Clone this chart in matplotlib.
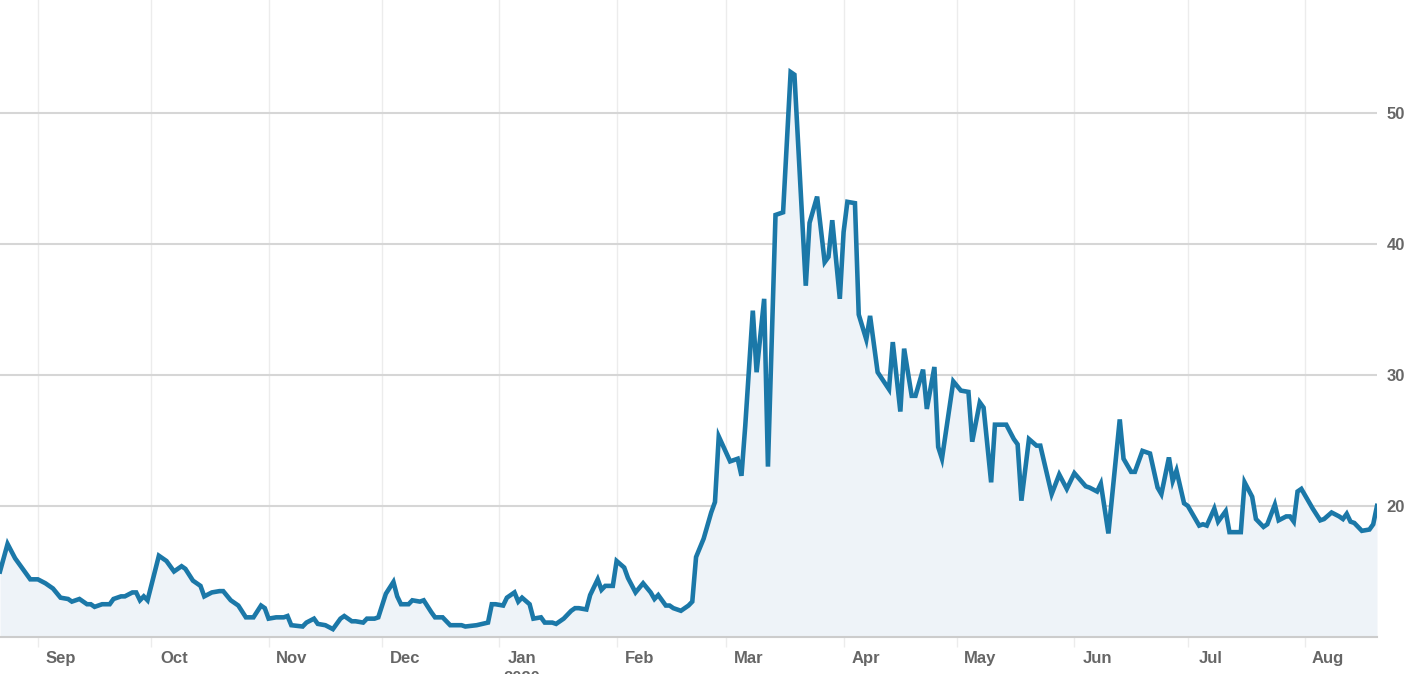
import matplotlib
matplotlib.use("Agg")
import matplotlib.pyplot as plt
import matplotlib.dates as mdates
import pandas as pd

# values
dates = [
    "2019-08-22", "2019-08-24", "2019-08-26", "2019-08-28", "2019-08-30",
    "2019-09-01", "2019-09-03", "2019-09-05", "2019-09-07", "2019-09-09", "2019-09-10",
    "2019-09-12", "2019-09-14", "2019-09-15", "2019-09-16", "2019-09-18", "2019-09-20",
    "2019-09-21", "2019-09-23", "2019-09-24", "2019-09-26", "2019-09-27", "2019-09-28",
    "2019-09-29", "2019-09-30",
    "2019-10-03", "2019-10-05", "2019-10-07", "2019-10-09", "2019-10-10", "2019-10-12",
    "2019-10-14", "2019-10-15", "2019-10-17", "2019-10-19", "2019-10-20", "2019-10-22",
    "2019-10-24", "2019-10-26", "2019-10-28", "2019-10-30", "2019-10-31",
    "2019-11-01", "2019-11-03", "2019-11-05", "2019-11-06", "2019-11-07", "2019-11-10",
    "2019-11-11", "2019-11-13", "2019-11-14", "2019-11-16", "2019-11-18", "2019-11-20",
    "2019-11-21", "2019-11-23", "2019-11-24", "2019-11-26", "2019-11-27", "2019-11-28",
    "2019-11-29", "2019-11-30",
    "2019-12-02", "2019-12-04", "2019-12-05", "2019-12-06", "2019-12-08", "2019-12-09",
    "2019-12-11", "2019-12-12", "2019-12-14", "2019-12-15", "2019-12-17", "2019-12-19",
    "2019-12-21", "2019-12-22", "2019-12-23", "2019-12-26", "2019-12-29", "2019-12-30",
    "2019-12-31",
    "2020-01-02", "2020-01-03", "2020-01-05", "2020-01-06", "2020-01-07", "2020-01-09",
    "2020-01-10", "2020-01-12", "2020-01-13", "2020-01-15", "2020-01-16", "2020-01-18",
    "2020-01-20", "2020-01-21", "2020-01-22", "2020-01-24", "2020-01-25", "2020-01-27",
    "2020-01-28", "2020-01-29", "2020-01-31",
    "2020-02-01", "2020-02-03", "2020-02-04", "2020-02-06", "2020-02-08", "2020-02-10",
    "2020-02-11", "2020-02-12", "2020-02-14", "2020-02-15", "2020-02-16", "2020-02-18",
    "2020-02-20", "2020-02-21", "2020-02-22", "2020-02-24", "2020-02-26", "2020-02-27",
    "2020-02-28",
    "2020-03-02", "2020-03-04", "2020-03-05", "2020-03-06", "2020-03-08", "2020-03-09",
    "2020-03-11", "2020-03-12", "2020-03-14", "2020-03-16", "2020-03-18", "2020-03-19",
    "2020-03-22", "2020-03-23", "2020-03-25", "2020-03-27", "2020-03-28", "2020-03-29",
    "2020-03-31",
    "2020-04-01", "2020-04-02", "2020-04-04", "2020-04-05", "2020-04-07", "2020-04-08",
    "2020-04-10", "2020-04-13", "2020-04-14", "2020-04-16", "2020-04-17", "2020-04-19",
    "2020-04-20", "2020-04-22", "2020-04-23", "2020-04-25", "2020-04-26", "2020-04-27",
    "2020-04-30",
    "2020-05-02", "2020-05-04", "2020-05-05", "2020-05-07", "2020-05-08", "2020-05-10",
    "2020-05-11", "2020-05-14", "2020-05-16", "2020-05-17", "2020-05-18", "2020-05-20",
    "2020-05-22", "2020-05-23", "2020-05-26", "2020-05-28", "2020-05-30",
    "2020-06-01", "2020-06-04", "2020-06-05", "2020-06-07", "2020-06-08", "2020-06-10",
    "2020-06-13", "2020-06-14", "2020-06-16", "2020-06-17", "2020-06-19", "2020-06-21",
    "2020-06-23", "2020-06-24", "2020-06-26", "2020-06-27", "2020-06-28", "2020-06-30",
    "2020-07-01", "2020-07-04", "2020-07-05", "2020-07-06", "2020-07-08", "2020-07-09",
    "2020-07-11", "2020-07-12", "2020-07-13", "2020-07-15", "2020-07-16", "2020-07-18",
    "2020-07-19", "2020-07-21", "2020-07-22", "2020-07-24", "2020-07-25", "2020-07-27",
    "2020-07-28", "2020-07-29", "2020-07-30", "2020-07-31",
    "2020-08-03", "2020-08-05", "2020-08-06", "2020-08-08", "2020-08-10", "2020-08-11",
    "2020-08-12", "2020-08-13", "2020-08-14", "2020-08-16", "2020-08-18", "2020-08-19",
    "2020-08-20",
]
values = [
    15.0, 17.1, 16.0, 15.2, 14.4,
    14.4, 14.1, 13.7, 13.0, 12.9, 12.7,
    12.9, 12.5, 12.5, 12.3, 12.5, 12.5,
    12.9, 13.1, 13.1, 13.4, 13.4, 12.8,
    13.1, 12.8,
    16.2, 15.8, 15.0, 15.4, 15.2, 14.3,
    13.9, 13.1, 13.4, 13.5, 13.5, 12.8,
    12.4, 11.5, 11.5, 12.4, 12.2,
    11.4, 11.5, 11.5, 11.6, 10.9, 10.8,
    11.1, 11.4, 11.0, 10.9, 10.6, 11.4,
    11.6, 11.2, 11.2, 11.1, 11.4, 11.4,
    11.4, 11.5,
    13.3, 14.2, 13.1, 12.5, 12.5, 12.8,
    12.7, 12.8, 11.9, 11.5, 11.5, 10.9,
    10.9, 10.9, 10.8, 10.9, 11.1, 12.5,
    12.5,
    12.4, 13.0, 13.4, 12.7, 13.0, 12.5,
    11.4, 11.5, 11.1, 11.1, 11.0, 11.4,
    12.0, 12.2, 12.2, 12.1, 13.2, 14.4,
    13.6, 13.9, 13.9,
    15.8, 15.3, 14.5, 13.4, 14.1, 13.4,
    12.9, 13.2, 12.4, 12.4, 12.2, 12.0,
    12.4, 12.7, 16.1, 17.5, 19.5, 20.3,
    25.3,
    23.4, 23.6, 22.3, 26.1, 34.9, 30.2,
    35.8, 23.0, 42.2, 42.4, 53.1, 52.9,
    36.8, 41.6, 43.6, 38.6, 39.0, 41.8,
    35.8,
    40.9, 43.2, 43.1, 34.6, 32.7, 34.5,
    30.2, 28.9, 32.5, 27.2, 32.0, 28.4,
    28.4, 30.4, 27.4, 30.6, 24.5, 23.6,
    29.5,
    28.8, 28.7, 24.9, 27.9, 27.5, 21.8,
    26.2, 26.2, 25.1, 24.7, 20.4, 25.1,
    24.6, 24.6, 20.9, 22.4, 21.3,
    22.5, 21.5, 21.4, 21.1, 21.7, 17.9,
    26.6, 23.6, 22.6, 22.6, 24.2, 24.0,
    21.4, 20.9, 23.7, 21.9, 22.7, 20.2,
    20.0, 18.5, 18.6, 18.5, 19.8, 18.8,
    19.6, 18.0, 18.0, 18.0, 21.8, 20.7,
    19.0, 18.4, 18.6, 20.1, 18.9, 19.2,
    19.2, 18.8, 21.1, 21.3,
    19.8, 18.9, 19.0, 19.5, 19.2, 19.0,
    19.4, 18.8, 18.7, 18.1, 18.2, 18.6,
    20.0,
]
y_ticks = [20, 30, 40, 50]

x = pd.to_datetime(dates)
line_color = "#1b78a8"
fill_color = "#eef3f8"
text_color = "#666666"

plt.rcParams["font.family"] = ["Liberation Sans", "DejaVu Sans"]

fig = plt.figure(figsize=(14.16, 6.74), dpi=100)
ax = fig.add_axes([0, 37 / 674, 1377 / 1416, 637 / 674])

ax.fill_between(x, values, 10, color=fill_color, lw=0, zorder=1)
ax.plot(x, values, color=line_color, lw=3.3, solid_joinstyle="miter", zorder=3)

ax.set_xlim(x[0], x[-1])
ax.set_ylim(10, 58.6)

# month gridlines on the 1st, labels a few days in
ax.xaxis.set_major_locator(mdates.MonthLocator(bymonthday=1))
ax.xaxis.set_major_formatter(plt.NullFormatter())
ax.xaxis.set_minor_locator(mdates.MonthLocator(bymonthday=7))


def month_label(v, pos):
    d = mdates.num2date(v)
    if d.month == 1:
        return "Jan\n2020"
    return d.strftime("%b")


ax.xaxis.set_minor_formatter(plt.FuncFormatter(month_label))
ax.tick_params(axis="x", which="major", length=7, color="#ececec", width=1)
ax.tick_params(axis="x", which="minor", length=0, pad=10,
               labelsize=12, labelcolor=text_color)
for lbl in ax.xaxis.get_minorticklabels():
    lbl.set_fontweight("bold")
    lbl.set_linespacing(1.45)
    lbl.set_verticalalignment("top")

ax.yaxis.tick_right()
ax.set_yticks(y_ticks)
ax.tick_params(axis="y", length=0, pad=7, labelsize=12, labelcolor=text_color)
for lbl in ax.get_yticklabels():
    lbl.set_fontweight("bold")

ax.grid(axis="x", which="major", color="#ececec", lw=1, zorder=0)
ax.grid(axis="y", color="#d6d6d6", lw=1.5, zorder=0)
ax.set_axisbelow(True)

for side in ["top", "left", "right"]:
    ax.spines[side].set_visible(False)
ax.spines["bottom"].set_color("#cccccc")
ax.spines["bottom"].set_linewidth(1.5)

fig.savefig("out.png", dpi=100)
plt.close(fig)
